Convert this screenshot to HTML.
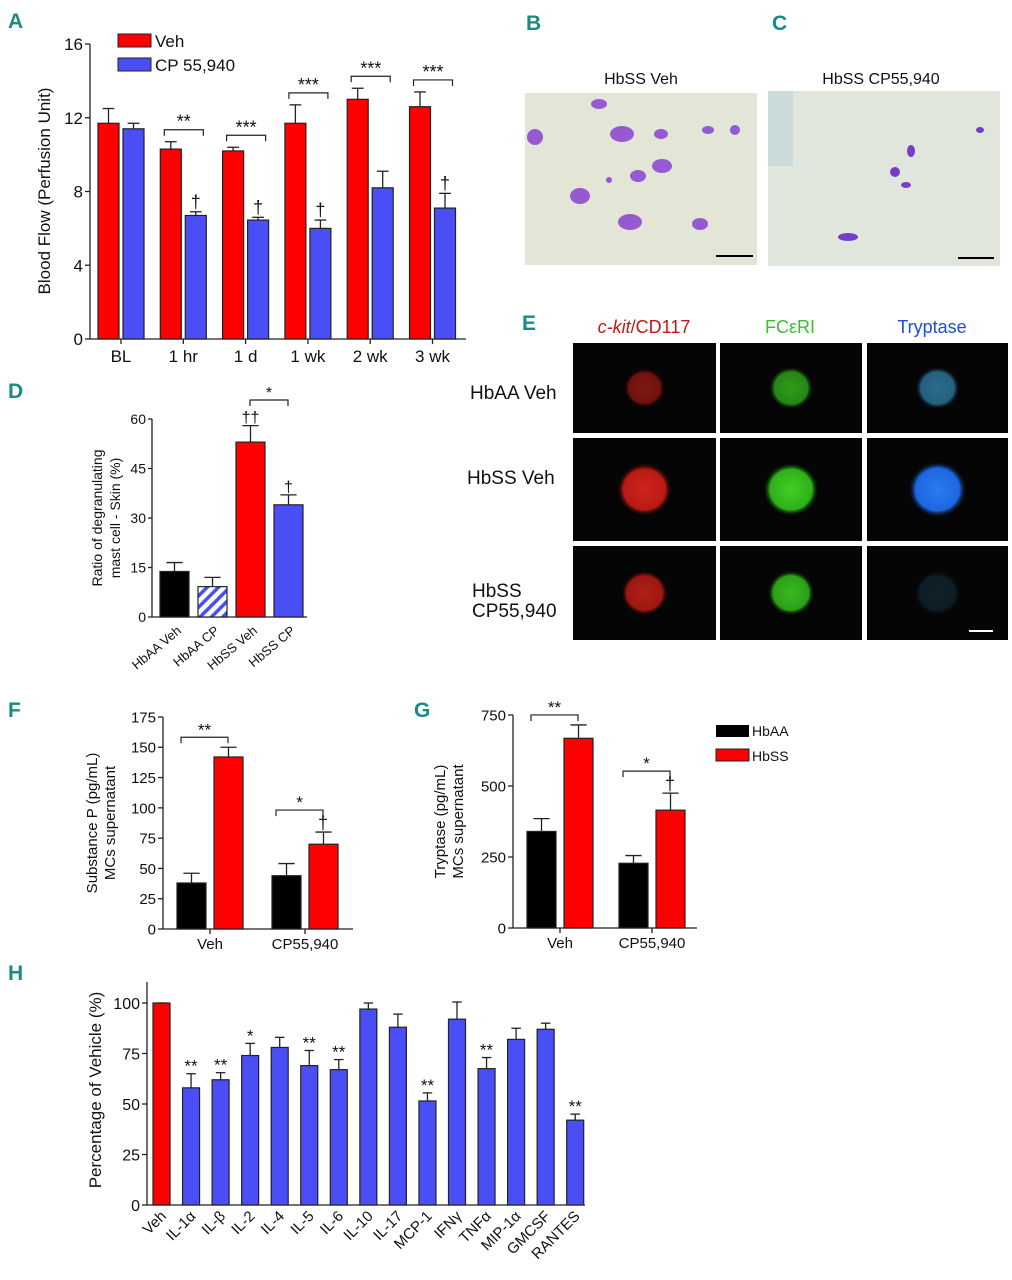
<!DOCTYPE html>
<html><head><meta charset="utf-8">
<style>
body{margin:0;background:#fff;}
svg{display:block;font-family:"Liberation Sans",sans-serif;}
.pl{font-family:"Liberation Sans",sans-serif;font-weight:bold;fill:#1a8a86;font-size:21px;}
</style></head>
<body>
<svg id="fig" width="1012" height="1280" viewBox="0 0 1012 1280" xmlns="http://www.w3.org/2000/svg">
<defs>
<pattern id="hatch" patternUnits="userSpaceOnUse" width="8" height="8" patternTransform="rotate(45)">
<rect width="8" height="8" fill="#fff"/><rect width="3.5" height="8" fill="#4a4ff5"/></pattern>
<radialGradient id="gr" ><stop offset="0" stop-color="#d0241c"/><stop offset="0.75" stop-color="#b81a14"/><stop offset="1" stop-color="#000" stop-opacity="0"/></radialGradient>
<radialGradient id="gg" ><stop offset="0" stop-color="#3fcf22"/><stop offset="0.75" stop-color="#2fb01a"/><stop offset="1" stop-color="#000" stop-opacity="0"/></radialGradient>
<radialGradient id="gb" ><stop offset="0" stop-color="#2a7cf0"/><stop offset="0.75" stop-color="#1d66e0"/><stop offset="1" stop-color="#000" stop-opacity="0"/></radialGradient>
<radialGradient id="gc" ><stop offset="0" stop-color="#3a8fb8"/><stop offset="0.75" stop-color="#2f7ea6"/><stop offset="1" stop-color="#000" stop-opacity="0"/></radialGradient>
</defs>
<g id="root"></g>
</svg>
<script>
// ---- Panel A data ----
const aCats = ["BL","1 hr","1 d","1 wk","2 wk","3 wk"];
const aVeh = [11.7,10.3,10.2,11.7,13.0,12.6];
const aVehErr = [12.5,10.7,10.4,12.7,13.6,13.4];
const aCP = [11.4,6.7,6.45,6.0,8.2,7.1];
const aCPErr = [11.7,6.9,6.6,6.45,9.1,7.9];
const aTicks = [0,4,8,12,16];
const aStars = ["","**","***","***","***","***"];
const aDagger = [false,true,true,true,false,true];
// ---- Panel D data ----
const dCats = ["HbAA Veh","HbAA CP","HbSS Veh","HbSS CP"];
const dVals = [13.8,9.2,53,34];
const dErr = [16.5,12,58,37];
const dTicks = [0,15,30,45,60];
const dMarks = ["","","††","†"];
// ---- Panel F data ----
const fCats = ["Veh","CP55,940"];
const fHbAA = [38,44];
const fHbAAErr = [46,54];
const fHbSS = [142,70];
const fHbSSErr = [150,80];
const fTicks = [0,25,50,75,100,125,150,175];
const fStars = ["**","*"];
// ---- Panel G data ----
const gCats = ["Veh","CP55,940"];
const gHbAA = [340,228];
const gHbAAErr = [385,255];
const gHbSS = [668,415];
const gHbSSErr = [715,475];
const gTicks = [0,250,500,750];
const gStars = ["**","*"];
// ---- Panel H data ----
const hCats = ["Veh","IL-1α","IL-β","IL-2","IL-4","IL-5","IL-6","IL-10","IL-17","MCP-1","IFNγ","TNFα","MIP-1α","GMCSF","RANTES"];
const hVals = [100,58,62,74,78,69,67,97,88,51.5,92,67.5,82,87,42];
const hErr = [100,65,65.5,80,83,76.5,72,100,94.5,55.5,100.5,73,87.5,90,45];
const hTicks = [0,25,50,75,100];
const hStars = ["","**","**","*","","**","**","","","**","","**","","","**"];

const NS="http://www.w3.org/2000/svg";
const root=document.getElementById('root');
function mk(tag,attrs,parent,txt){const e=document.createElementNS(NS,tag);for(const k in attrs)e.setAttribute(k,attrs[k]);if(txt!==undefined)e.textContent=txt;(parent||root).appendChild(e);return e;}
const RED="#ff0000",BLUE="#4a4ff5",BLK="#000",STK="#222";

function axisY(g,x,y0,y1,vmax,ticks,fs,len){
  const sc=v=>y0-(v/vmax)*(y0-y1);
  mk('line',{x1:x,y1:y0,x2:x,y2:y1,stroke:STK,'stroke-width':1.3},g);
  ticks.forEach(t=>{const y=sc(t);
    mk('line',{x1:x-(len||5),y1:y,x2:x,y2:y,stroke:STK,'stroke-width':1.3},g);
    const tx=mk('text',{x:x-(len||5)-2,y:y+fs*0.36,'text-anchor':'end','font-size':fs,fill:'#111'},g,String(t));
    
    
  });
  return sc;
}
function bar(g,x,w,sc,v,e,fill,name){
  const y=sc(v),y0=sc(0),ye=sc(e),cx=x+w/2;
  mk('line',{x1:cx,y1:y,x2:cx,y2:ye,stroke:STK,'stroke-width':1.3},g);
  mk('line',{x1:cx-w*0.28,y1:ye,x2:cx+w*0.28,y2:ye,stroke:STK,'stroke-width':1.3},g);
  const r=mk('rect',{x:x,y:y,width:w,height:y0-y,fill:fill,stroke:STK,'stroke-width':1.2},g);
  
  
  return r;
}
function bracket(g,x1,x2,y,lab,fs){
  mk('path',{d:`M${x1},${y+6}V${y}H${x2}V${y+6}`,fill:'none',stroke:STK,'stroke-width':1.2},g);
  mk('text',{x:(x1+x2)/2,y:y-2,'text-anchor':'middle','font-size':fs,fill:'#111'},g,lab);
}
function plabel(x,y,t){const e=mk('text',{x:x,y:y,class:'pl'},root,t);}

// ===== Panel A =====
(function(){
  const g=mk('g',{});
  plabel(8,28,'A');
  const sc=axisY(g,90,339,44,16,aTicks,17,5);
  mk('line',{x1:90,y1:339,x2:466,y2:339,stroke:STK,'stroke-width':1.3},g);
  const yt=mk('text',{transform:'translate(50,191) rotate(-90)','text-anchor':'middle','font-size':17,fill:'#111'},g,'Blood Flow (Perfusion Unit)');
  
  aCats.forEach((c,i)=>{
    const x0=98+i*62.3;
    bar(g,x0,21,sc,aVeh[i],aVehErr[i],RED,'bar-veh-'+i);
    bar(g,x0+25,21,sc,aCP[i],aCPErr[i],BLUE,'bar-cp-'+i);
    const cx=x0+23;
    mk('line',{x1:cx,y1:339,x2:cx,y2:344,stroke:STK,'stroke-width':1.3},g);
    mk('text',{x:cx,y:362,'text-anchor':'middle','font-size':17,fill:'#111'},g,c);
    if(aStars[i]){const top=Math.min(sc(aVehErr[i]),sc(aCPErr[i]));bracket(g,x0+4,x0+43,Math.min(top-12,sc(aVehErr[i])-10),aStars[i],18);}
    if(aDagger[i]) mk('text',{x:x0+35.5,y:sc(aCPErr[i])-4,'text-anchor':'middle','font-size':18,fill:'#111'},g,'†');
  });
  const l1=mk('rect',{x:118,y:34,width:33,height:13,fill:RED,stroke:STK},g);
  mk('text',{x:155,y:47,'font-size':17,fill:'#111'},g,'Veh');
  const l2=mk('rect',{x:118,y:58,width:33,height:13,fill:BLUE,stroke:STK},g);
  mk('text',{x:155,y:71,'font-size':17,fill:'#111'},g,'CP 55,940');
})();

// ===== Panels B,C images =====
plabel(526,30,'B');plabel(772,30,'C');
(function(){
  const g=mk('g',{});
  mk('text',{x:641,y:84,'text-anchor':'middle','font-size':16,fill:'#111'},g,'HbSS Veh');
  mk('text',{x:881,y:84,'text-anchor':'middle','font-size':16,fill:'#111'},g,'HbSS  CP55,940');
  const b=mk('rect',{x:525,y:93,width:232,height:172,fill:'#e3e6d7'},g);
  const c=mk('rect',{x:768,y:91,width:232,height:175,fill:'#e0e6dc'},g);
  mk('rect',{x:768,y:91,width:25,height:75,fill:'#bcd3d8',opacity:0.6},g);
  const bs=[[535,137,8,8],[622,134,12,8],[599,104,8,5],[661,134,7,5],[662,166,10,7],[638,176,8,6],[580,196,10,8],[630,222,12,8],[700,224,8,6],[735,130,5,5],[708,130,6,4],[609,180,3,3]];
  bs.forEach(p=>mk('ellipse',{cx:p[0],cy:p[1],rx:p[2],ry:p[3],fill:'#8a3fd0',opacity:0.85},g));
  const cs=[[911,151,4,6],[895,172,5,5],[906,185,5,3],[848,237,10,4],[980,130,4,3]];
  cs.forEach(p=>mk('ellipse',{cx:p[0],cy:p[1],rx:p[2],ry:p[3],fill:'#6a2ac8',opacity:0.9},g));
  mk('line',{x1:716,y1:256,x2:753,y2:256,stroke:'#000','stroke-width':2},g);
  mk('line',{x1:958,y1:258,x2:994,y2:258,stroke:'#000','stroke-width':2},g);
})();

// ===== Panel E =====
plabel(522,330,'E');
(function(){
  const g=mk('g',{});
  const hdr=mk('text',{x:644,y:333,'text-anchor':'middle','font-size':18,fill:'#c01818'},g);
  mk('tspan',{'font-style':'italic'},hdr,'c-kit');mk('tspan',{},hdr,'/CD117');
  mk('text',{x:790,y:333,'text-anchor':'middle','font-size':18,fill:'#3cc030'},g,'FCεRI');
  mk('text',{x:932,y:333,'text-anchor':'middle','font-size':18,fill:'#1c4de0'},g,'Tryptase');
  const cols=[573,720,867],rows=[[343,90],[438,103],[546,94]],cw=[143,142,141];
  const fills=[['gr','gg','gc'],['gr','gg','gb'],['gr','gg','gc']];
  const sz=[[0.75,0.8,0.8],[1.0,1.0,1.05],[0.85,0.85,0.85]];
  const op=[[0.6,0.75,0.75],[1,1,1],[0.85,0.9,0.2]];
  rows.forEach((r,ri)=>cols.forEach((x,ci)=>{
    mk('rect',{x:x,y:r[0],width:cw[ci],height:r[1],fill:'#050505'},g);
    const s=sz[ri][ci];
    mk('ellipse',{cx:x+cw[ci]/2,cy:r[0]+r[1]/2,rx:28*s,ry:27*s,fill:'url(#'+fills[ri][ci]+')',opacity:op[ri][ci]},g);
  }));
  mk('line',{x1:969,y1:631,x2:993,y2:631,stroke:'#fff','stroke-width':2},g);
  mk('text',{x:470,y:399,'font-size':19,fill:'#111'},g,'HbAA Veh');
  mk('text',{x:467,y:484,'font-size':19,fill:'#111'},g,'HbSS Veh');
  mk('text',{x:472,y:597,'font-size':19,fill:'#111'},g,'HbSS');
  mk('text',{x:472,y:617,'font-size':19,fill:'#111'},g,'CP55,940');
})();

// ===== Panel D =====
(function(){
  const g=mk('g',{});
  plabel(8,398,'D');
  const sc=axisY(g,152,617,419,60,dTicks,14,4);
  mk('line',{x1:152,y1:617,x2:307,y2:617,stroke:STK,'stroke-width':1.3},g);
  mk('text',{transform:'translate(102,518) rotate(-90)','text-anchor':'middle','font-size':14,fill:'#111'},g,'Ratio of degranulating');
  mk('text',{transform:'translate(120,518) rotate(-90)','text-anchor':'middle','font-size':14,fill:'#111'},g,'mast cell - Skin (%)');
  const fl=[BLK,'url(#hatch)',RED,BLUE];
  dCats.forEach((c,i)=>{
    const x=160+i*38;
    bar(g,x,29,sc,dVals[i],dErr[i],fl[i],'bar-'+c.toLowerCase().replace(' ','-'));
    mk('text',{transform:`translate(${x+22},${632}) rotate(-40)`,'text-anchor':'end','font-size':13,fill:'#111'},g,c);
    if(dMarks[i]) mk('text',{x:x+14.5,y:sc(dErr[i])-3,'text-anchor':'middle','font-size':16,fill:'#111'},g,dMarks[i]);
  });
  bracket(g,250,288,400,'*',16);
})();

// ===== Panels F, G =====
function groupChart(name,lab,lx,ly,ax,y0,y1,xend,vmax,ticks,cats,a,ae,b,be,stars,x0,title1,title2,tx){
  const g=mk('g',{});
  plabel(lx,ly,lab);
  const sc=axisY(g,ax,y0,y1,vmax,ticks,15,5);
  mk('line',{x1:ax,y1:y0,x2:xend,y2:y0,stroke:STK,'stroke-width':1.3},g);
  mk('text',{transform:`translate(${tx},${(y0+y1)/2}) rotate(-90)`,'text-anchor':'middle','font-size':15,fill:'#111'},g,title1);
  mk('text',{transform:`translate(${tx+18},${(y0+y1)/2}) rotate(-90)`,'text-anchor':'middle','font-size':15,fill:'#111'},g,title2);
  cats.forEach((c,i)=>{
    const x=x0+i*(name==='panel-f-chart'?95:92);
    bar(g,x,29,sc,a[i],ae[i],BLK,'bar-hbaa-'+i);
    bar(g,x+37,29,sc,b[i],be[i],RED,'bar-hbss-'+i);
    const cx=x+33;
    mk('line',{x1:cx,y1:y0,x2:cx,y2:y0+5,stroke:STK,'stroke-width':1.3},g);
    mk('text',{x:cx,y:y0+20,'text-anchor':'middle','font-size':15,fill:'#111'},g,c);
    const by=sc(be[i])-(i===1?22:10);
    bracket(g,x+4,x+51,by,stars[i],17);
    if(i===1) mk('text',{x:x+51,y:sc(be[i])-3,'text-anchor':'middle','font-size':18,fill:'#111'},g,'†');
  });
}
groupChart('panel-f-chart','F',8,717,163,929,717,353,175,fTicks,fCats,fHbAA,fHbAAErr,fHbSS,fHbSSErr,fStars,177,'Substance P (pg/mL)','MCs supernatant',97);
groupChart('panel-g-chart','G',414,717,513,928,715,697,750,gTicks,gCats,gHbAA,gHbAAErr,gHbSS,gHbSSErr,gStars,527,'Tryptase (pg/mL)','MCs supernatant',445);
(function(){
  const g=mk('g',{});
  mk('rect',{x:716,y:725,width:33,height:12,fill:BLK},g);
  mk('text',{x:752,y:736,'font-size':14,fill:'#111'},g,'HbAA');
  mk('rect',{x:716,y:749,width:33,height:12,fill:RED,stroke:STK},g);
  mk('text',{x:752,y:761,'font-size':14,fill:'#111'},g,'HbSS');
})();

// ===== Panel H =====
(function(){
  const g=mk('g',{});
  plabel(8,980,'H');
  const sc=axisY(g,147,1205,1003,100,hTicks,16,5);
  mk('line',{x1:147,y1:982,x2:147,y2:1003,stroke:STK,'stroke-width':1.3},g);
  mk('line',{x1:147,y1:1205,x2:585,y2:1205,stroke:STK,'stroke-width':1.3},g);
  mk('text',{transform:'translate(101,1090) rotate(-90)','text-anchor':'middle','font-size':17,fill:'#111'},g,'Percentage of Vehicle (%)');
  hCats.forEach((c,i)=>{
    const x=153+i*29.55;
    bar(g,x,17,sc,hVals[i],hErr[i],i===0?RED:BLUE,'bar-'+c.toLowerCase());
    mk('text',{transform:`translate(${x+14},${1217}) rotate(-45)`,'text-anchor':'end','font-size':15,fill:'#111'},g,c);
    if(hStars[i]) mk('text',{x:x+8.5,y:sc(hErr[i])-2,'text-anchor':'middle','font-size':17,fill:'#111'},g,hStars[i]);
  });
})();
</script>
</body></html>
